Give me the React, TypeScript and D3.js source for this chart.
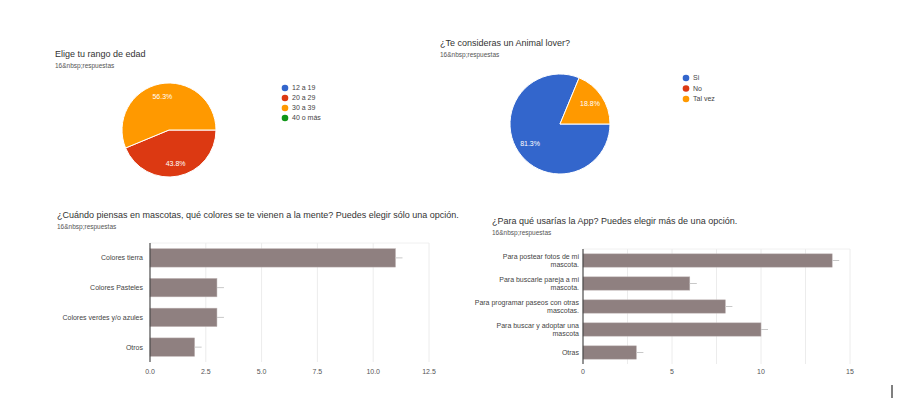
import React from "react";
import * as d3 from "d3";

const ageCategories = ["12 a 19", "20 a 29", "30 a 39", "40 o más"];
const ageCounts = [0, 7, 9, 0];

const loverCategories = ["Si", "No", "Tal vez"];
const loverCounts = [13, 0, 3];

const colorCategories = ["Colores tierra", "Colores Pasteles", "Colores verdes y/o azules", "Otros"];
const colorCounts = [11, 3, 3, 2];
const colorTicks = [0, 2.5, 5, 7.5, 10, 12.5];

const appCategories = [
  "Para postear fotos de mi\nmascota.",
  "Para buscarle pareja a mi\nmascota.",
  "Para programar paseos con otras\nmascotas.",
  "Para buscar y adoptar una\nmascota",
  "Otras",
];
const appCounts = [14, 6, 8, 10, 3];
const appTicks = [0, 5, 10, 15];
const appGrid = [0, 2.5, 5, 7.5, 10, 12.5, 15];

const palette = ["#3366cc", "#dc3912", "#ff9900", "#109618"];
const FONT = "Arial, 'Liberation Sans', sans-serif";
const BAR = "#8f8080";

function Pie({ cx, cy, r, categories, counts, legendX, legendY, legendStep }) {
  const total = d3.sum(counts);
  const arcs = d3
    .pie()
    .sort(null)
    .value((d) => d)
    .startAngle(Math.PI / 2)
    .endAngle(Math.PI / 2 + 2 * Math.PI)(counts);
  const arc = d3.arc().innerRadius(0).outerRadius(r);
  const labelArc = d3.arc().innerRadius(r * 0.72).outerRadius(r * 0.72);
  return (
    <g>
      <g transform={`translate(${cx},${cy})`}>
        {arcs.map((a, i) =>
          a.value > 0 ? (
            <path key={i} d={arc(a)} fill={palette[i]} stroke="#fff" strokeWidth={1} />
          ) : null
        )}
        {arcs.map((a, i) => {
          if (a.value === 0) return null;
          const [x, y] = labelArc.centroid(a);
          return (
            <text key={"l" + i} x={x} y={y} dy="0.35em" textAnchor="middle" fontSize={7} fill="#fff" fontFamily={FONT}>
              {((a.value / total) * 100).toFixed(1)}%
            </text>
          );
        })}
      </g>
      {categories.map((c, i) => (
        <g key={c} transform={`translate(${legendX},${legendY + i * legendStep})`}>
          <circle r={3.3} fill={palette[i]} />
          <text x={7} dy="0.35em" fontSize={7} fill="#444" fontFamily={FONT}>
            {c}
          </text>
        </g>
      ))}
    </g>
  );
}

function Bars({ x0, x1, y0, y1, categories, counts, domainMax, ticks, grid, fmt, padding, labelGap }) {
  const x = d3.scaleLinear().domain([0, domainMax]).range([x0, x1]);
  const y = d3.scaleBand().domain(categories).range([y0, y1]).paddingInner(padding).paddingOuter(padding / 2);
  return (
    <g fontFamily={FONT}>
      <line x1={x0} x2={x1} y1={y0} y2={y0} stroke="#f0f0f0" />
      {grid.map((t) => (
        <line key={t} x1={x(t)} x2={x(t)} y1={y0} y2={y1} stroke="#ececec" />
      ))}
      {categories.map((c, i) => {
        const by = y(c);
        const bw = x(counts[i]) - x0;
        const lines = c.split("\n");
        const mid = by + y.bandwidth() / 2;
        return (
          <g key={c}>
            <rect x={x0} y={by} width={bw} height={y.bandwidth()} fill={BAR} stroke="#bfb5b5" strokeWidth={0.5} />
            <line x1={x(counts[i])} x2={x(counts[i]) + 7} y1={mid} y2={mid} stroke="#c8c8c8" strokeWidth={1} />
            {lines.map((l, k) => (
              <text
                key={k}
                x={x0 - labelGap}
                y={mid + (k - (lines.length - 1) / 2) * 8.5}
                dy="0.35em"
                textAnchor="end"
                fontSize={7}
                fill="#444"
              >
                {l}
              </text>
            ))}
          </g>
        );
      })}
      <line x1={x0} x2={x0} y1={y0} y2={y1} stroke="#333" strokeWidth={1} />
      {ticks.map((t) => (
        <text key={t} x={x(t)} y={374} textAnchor="middle" fontSize={7} fill="#555">
          {fmt(t)}
        </text>
      ))}
    </g>
  );
}

function Title({ x, y, text }) {
  return (
    <g fontFamily={FONT}>
      <text x={x} y={y} fontSize={9} fill="#333">
        {text}
      </text>
      <text x={x} y={y + 11} fontSize={6.5} fill="#555">
        16&amp;nbsp;respuestas
      </text>
    </g>
  );
}

export default function App() {
  return (
    <svg width={911} height={410} style={{ position: "absolute", left: 0, top: 0, background: "#fff" }}>
      <rect width={911} height={410} fill="#fff" />
      <Title x={55} y={57} text="Elige tu rango de edad" />
      <Pie cx={169} cy={130} r={47} categories={ageCategories} counts={ageCounts} legendX={285} legendY={88} legendStep={10} />

      <Title x={440} y={46} text="¿Te consideras un Animal lover?" />
      <Pie cx={560} cy={124} r={50} categories={loverCategories} counts={loverCounts} legendX={686} legendY={78} legendStep={10.5} />

      <Title x={57} y={218} text="¿Cuándo piensas en mascotas, qué colores se te vienen a la mente? Puedes elegir sólo una opción." />
      <Bars
        x0={150}
        x1={429}
        y0={243}
        y1={362}
        categories={colorCategories}
        counts={colorCounts}
        domainMax={12.5}
        ticks={colorTicks}
        grid={colorTicks}
        fmt={(t) => t.toFixed(1)}
        padding={0.38}
        labelGap={7}
      />

      <Title x={492} y={224} text="¿Para qué usarías la App? Puedes elegir más de una opción." />
      <Bars
        x0={583}
        x1={850}
        y0={249}
        y1={364}
        categories={appCategories}
        counts={appCounts}
        domainMax={15}
        ticks={appTicks}
        grid={appGrid}
        fmt={(t) => String(t)}
        padding={0.42}
        labelGap={4}
      />

      <line x1={892} x2={892} y1={385} y2={398} stroke="#000" strokeWidth={1} />
    </svg>
  );
}
